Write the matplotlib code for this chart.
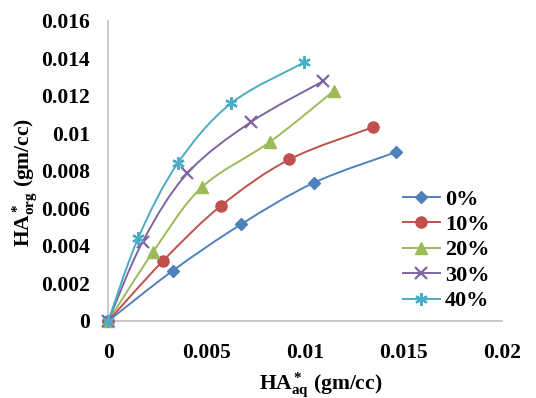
import numpy as np
import matplotlib
matplotlib.use("Agg")
import matplotlib.pyplot as plt
from matplotlib.path import Path
from matplotlib.patches import PathPatch

plt.rcParams['font.family'] = ['Liberation Serif', 'DejaVu Serif']
plt.rcParams['font.weight'] = 'bold'
plt.rcParams['mathtext.fontset'] = 'custom'
plt.rcParams['mathtext.rm'] = 'Liberation Serif:bold'
plt.rcParams['mathtext.it'] = 'Liberation Serif:bold'
plt.rcParams['mathtext.bf'] = 'Liberation Serif:bold'
plt.rcParams['mathtext.default'] = 'rm'

# data
labels = ['0%', '10%', '20%', '30%', '40%']
x_0 = [0, 0.00328, 0.00675, 0.01046, 0.01464]
y_0 = [0, 0.00268, 0.00515, 0.00737, 0.00900]
x_10 = [0, 0.00278, 0.00573, 0.00921, 0.01345]
y_10 = [0, 0.00320, 0.00614, 0.00861, 0.01032]
x_20 = [0, 0.00229, 0.00475, 0.00823, 0.01148]
y_20 = [0, 0.00370, 0.00712, 0.00955, 0.01227]
x_30 = [0, 0.00175, 0.00402, 0.00724, 0.01094]
y_30 = [0, 0.00423, 0.00787, 0.01059, 0.01279]
x_40 = [0, 0.00153, 0.00353, 0.00624, 0.00997]
y_40 = [0, 0.00444, 0.00840, 0.01160, 0.01378]

xticks = [0, 0.005, 0.01, 0.015, 0.02]
xtick_labels = ['0', '0.005', '0.01', '0.015', '0.02']
yticks = [0, 0.002, 0.004, 0.006, 0.008, 0.01, 0.012, 0.014, 0.016]
ytick_labels = ['0', '0.002', '0.004', '0.006', '0.008', '0.01', '0.012', '0.014', '0.016']

colors = ['#4F81BD', '#C0504D', '#9BBB59', '#8064A2', '#4BACC6']
markers = ['D', 'o', '^', 'x', (6, 2, 0)]
msizes = [6.5, 8, 8.5, 8, 9]

series = [(x_0, y_0), (x_10, y_10), (x_20, y_20), (x_30, y_30), (x_40, y_40)]


def smooth_path(xs, ys):
    # Excel-like smoothed line: cubic bezier with catmull-rom control points
    p = np.column_stack([xs, ys])
    n = len(p)
    verts = [p[0]]
    codes = [Path.MOVETO]
    for i in range(n - 1):
        p0 = p[i - 1] if i > 0 else p[i]
        p3 = p[i + 2] if i + 2 < n else p[i + 1]
        c1 = p[i] + (p[i + 1] - p0) / 6.0
        c2 = p[i + 1] - (p3 - p[i]) / 6.0
        verts += [c1, c2, p[i + 1]]
        codes += [Path.CURVE4] * 3
    return Path(verts, codes)


fig = plt.figure(figsize=(5.36, 3.98), dpi=100)
ax = fig.add_axes([0.202, 0.1935, 0.734, 0.7545])

for (xs, ys), c, m, ms, lab in zip(series, colors, markers, msizes, labels):
    ax.add_patch(PathPatch(smooth_path(xs, ys), fill=False, edgecolor=c,
                           lw=1.4, clip_on=False))
    mew = 1.6 if m in ('x',) or isinstance(m, tuple) else 1
    ax.plot(xs, ys, color=c, marker=m, ms=ms, lw=1.4, ls='none',
            mew=mew, clip_on=False, zorder=3)
    ax.plot([], [], color=c, marker=m, ms=ms, lw=1.4, mew=mew, label=lab)

ax.set_xlim(0, 0.02)
ax.set_ylim(0, 0.016)
ax.set_xticks(xticks)
ax.set_xticklabels(xtick_labels)
ax.set_yticks(yticks)
ax.set_yticklabels(ytick_labels)
ax.tick_params(axis='both', length=0, labelsize=15.5)
ax.tick_params(axis='x', pad=16)
ax.tick_params(axis='y', pad=13)
for s in ['top', 'right']:
    ax.spines[s].set_visible(False)
for s in ['left', 'bottom']:
    ax.spines[s].set_color('#bfbfbf')
    ax.spines[s].set_linewidth(1.2)

fig.text(25 / 536, 1 - 182 / 398, r'HA$^*_{org}$ (gm/cc)', rotation=90,
         ha='center', va='center', fontsize=15.5, fontweight='bold')
fig.text(321 / 536, 1 - 385 / 398, r'HA$^*_{aq}$ (gm/cc)',
         ha='center', va='center', fontsize=15.5, fontweight='bold')

ax.legend(loc='upper left', bbox_to_anchor=(403 / 536, 1 - 189 / 398),
          bbox_transform=fig.transFigure, frameon=False, fontsize=16,
          handlelength=1.65, handletextpad=0.25, labelspacing=0.22,
          borderpad=0, borderaxespad=0)

fig.savefig('out.png', dpi=100)
